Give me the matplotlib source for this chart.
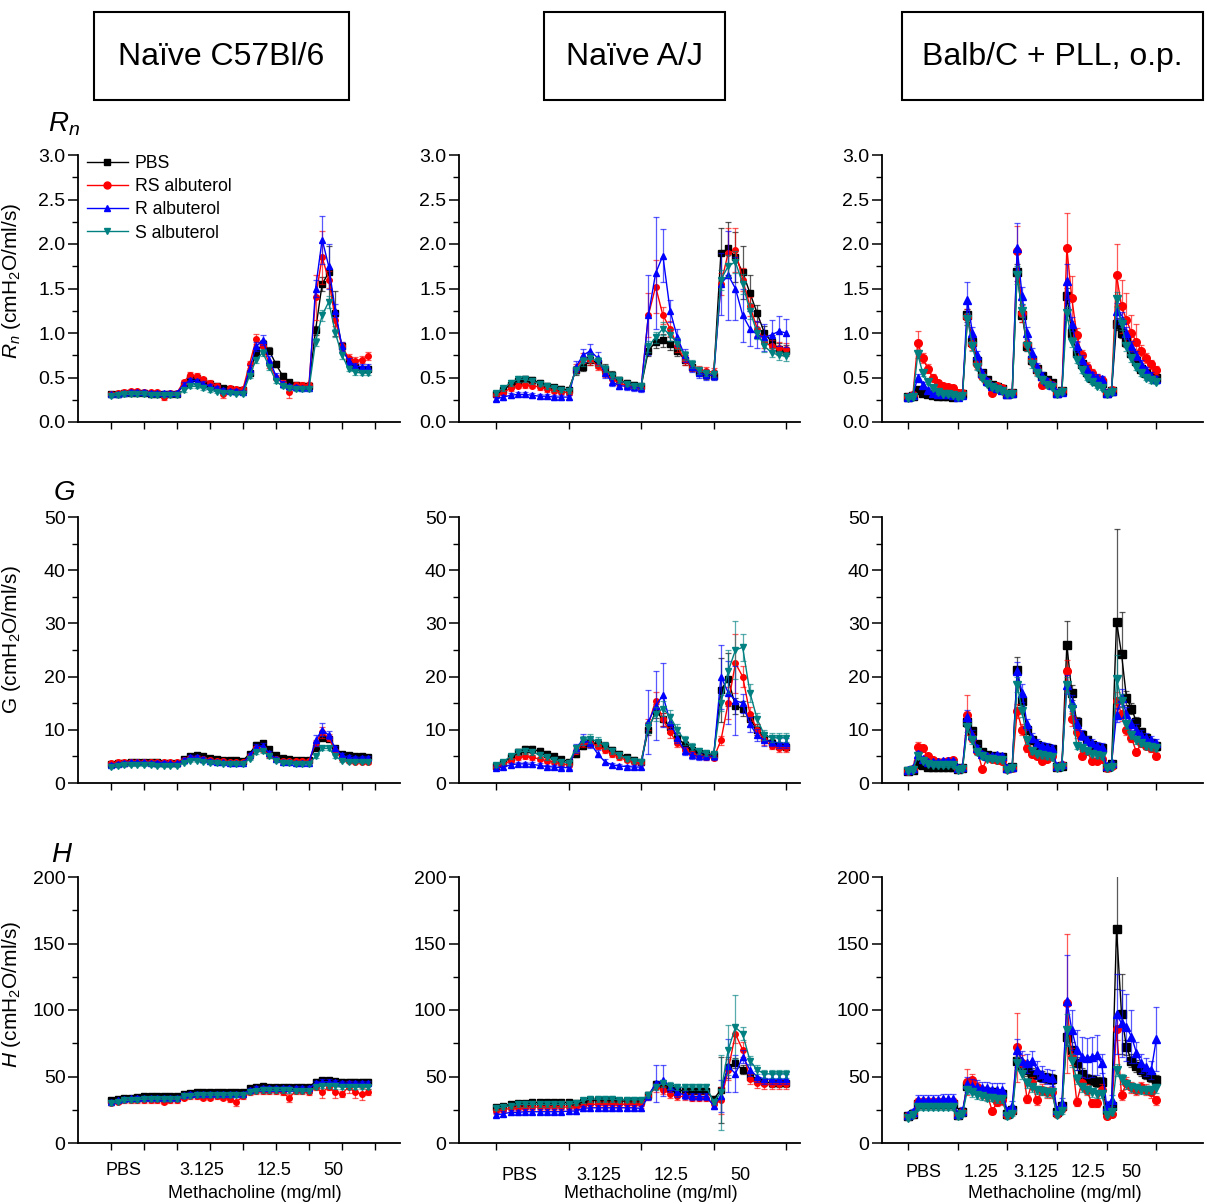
import matplotlib.pyplot as plt
import numpy as np
from matplotlib.patches import Rectangle
from matplotlib.lines import Line2D
from matplotlib.ticker import MultipleLocator, FormatStrFormatter
from matplotlib.colors import to_rgba

plt.rcParams['font.family'] = ['Liberation Sans', 'DejaVu Sans']
plt.rcParams['mathtext.fontset'] = 'custom'
plt.rcParams['mathtext.rm'] = 'Liberation Sans'
plt.rcParams['mathtext.it'] = 'Liberation Sans:italic'

groups = ['PBS', 'RS albuterol', 'R albuterol', 'S albuterol']
colors = ['#000000', '#ff0000', '#0000ff', '#008080']
markers = ['s', 'o', '^', 'v']

strains = ['Naïve C57Bl/6', 'Naïve A/J', 'Balb/C + PLL, o.p.']
doses_4 = ['PBS', '3.125', '12.5', '50']
doses_5 = ['PBS', '1.25', '3.125', '12.5', '50']

# ---- Naive C57Bl/6 (one point every 0.2 tick) ----
rn_c57_pbs = [0.31, 0.32, 0.33, 0.33, 0.33, 0.33, 0.32, 0.32, 0.32, 0.32, 0.32,
              0.42, 0.49, 0.49, 0.46, 0.43, 0.40, 0.38, 0.37, 0.36, 0.36,
              0.55, 0.78, 0.88, 0.80, 0.65, 0.52, 0.45, 0.42, 0.41, 0.41,
              1.03, 1.55, 1.68, 1.22, 0.85, 0.68, 0.62, 0.60, 0.60]
rn_c57_rs = [0.32, 0.33, 0.34, 0.35, 0.35, 0.34, 0.34, 0.34, 0.28, 0.33, 0.33,
             0.45, 0.53, 0.52, 0.48, 0.44, 0.41, 0.31, 0.38, 0.37, 0.37,
             0.65, 0.93, 0.85, 0.65, 0.50, 0.44, 0.34, 0.42, 0.42, 0.42,
             1.40, 1.85, 1.60, 1.15, 0.85, 0.72, 0.69, 0.70, 0.74]
rn_c57_r = [0.31, 0.32, 0.33, 0.34, 0.34, 0.34, 0.33, 0.33, 0.33, 0.33, 0.33,
            0.42, 0.47, 0.46, 0.43, 0.40, 0.38, 0.36, 0.35, 0.35, 0.34,
            0.60, 0.85, 0.92, 0.70, 0.52, 0.43, 0.40, 0.39, 0.38, 0.38,
            1.50, 2.05, 1.75, 1.25, 0.85, 0.68, 0.63, 0.62, 0.62]
rn_c57_s = [0.29, 0.30, 0.31, 0.31, 0.31, 0.31, 0.30, 0.30, 0.30, 0.30, 0.30,
            0.36, 0.40, 0.40, 0.38, 0.36, 0.34, 0.33, 0.33, 0.32, 0.32,
            0.52, 0.70, 0.78, 0.62, 0.46, 0.40, 0.38, 0.37, 0.37, 0.37,
            0.90, 1.20, 1.35, 1.00, 0.75, 0.60, 0.56, 0.55, 0.55]
rn_c57_sem = [0.05, 0.06, 0.06, 0.05]
rn_c57_big = {(1, 8): 0.03, (1, 17): 0.04, (1, 27): 0.07, (1, 31): 0.25, (1, 32): 0.30,
              (2, 32): 0.27, (2, 33): 0.25, (0, 33): 0.30, (0, 34): 0.25}

g_c57_pbs = [3.5, 3.7, 3.8, 3.9, 3.9, 3.9, 3.9, 3.9, 3.8, 3.8, 3.8,
             4.5, 5.1, 5.3, 5.0, 4.7, 4.5, 4.4, 4.3, 4.3, 4.2,
             5.5, 7.2, 7.5, 6.3, 5.2, 4.7, 4.5, 4.4, 4.4, 4.4,
             6.5, 8.5, 8.3, 6.5, 5.5, 5.2, 5.0, 5.0, 4.9]
g_c57_rs = [3.7, 3.9, 4.0, 4.0, 4.0, 4.0, 4.0, 4.0, 3.9, 3.9, 3.9,
            4.3, 4.7, 4.7, 4.5, 4.3, 4.2, 4.1, 4.0, 4.0, 4.0,
            5.0, 6.5, 6.3, 5.2, 4.5, 4.2, 4.1, 4.1, 4.1, 4.1,
            7.5, 9.5, 8.5, 6.0, 4.6, 4.2, 4.0, 4.0, 3.9]
g_c57_r = [3.4, 3.6, 3.8, 3.9, 3.9, 3.9, 3.8, 3.8, 3.8, 3.7, 3.7,
           4.3, 4.9, 4.8, 4.5, 4.2, 4.0, 3.9, 3.8, 3.7, 3.7,
           5.2, 6.8, 7.0, 5.6, 4.5, 4.0, 3.9, 3.8, 3.8, 3.8,
           8.0, 10.0, 9.0, 6.5, 5.2, 4.8, 4.7, 4.7, 4.7]
g_c57_s = [3.0, 3.2, 3.3, 3.3, 3.3, 3.3, 3.3, 3.2, 3.2, 3.2, 3.2,
           3.8, 4.2, 4.2, 4.0, 3.8, 3.7, 3.6, 3.6, 3.5, 3.5,
           4.6, 5.8, 6.0, 5.0, 4.2, 3.8, 3.7, 3.6, 3.6, 3.6,
           5.0, 6.5, 6.5, 5.0, 4.2, 4.0, 3.9, 3.9, 3.9]
g_c57_sem = [0.06, 0.08, 0.08, 0.06]
g_c57_big = {(2, 31): 1.0, (2, 32): 1.2, (1, 32): 1.0}

h_c57_pbs = [32, 33, 34, 34, 34.5, 35, 35, 35, 35, 35, 35,
             37, 37.5, 38, 38, 38, 38, 38, 38, 38, 38,
             41, 42, 42.5, 42, 42, 42, 42, 42, 42, 42,
             46, 47, 47, 46.5, 46, 46, 46, 46, 46]
h_c57_rs = [30, 31, 32, 32, 32, 32, 32, 32, 31, 32, 32,
            34, 35, 35, 34, 34, 35, 34, 33, 31, 35,
            38, 39, 39, 39, 39, 38, 34, 39, 39, 38,
            42, 38, 42, 38, 37, 42, 38, 37, 38]
h_c57_r = [31, 32, 33, 33.5, 34, 34, 34, 34, 34, 34, 34,
           36, 37, 37, 37, 37, 37, 37, 37, 37, 37,
           40, 41, 41, 41, 41, 41, 41, 41, 41, 41,
           45, 46, 46, 45.5, 45, 45, 45, 45, 45]
h_c57_s = [30, 31, 32, 32, 32.5, 33, 33, 33, 33, 33, 33,
           35, 35.5, 36, 36, 36, 36, 36, 36, 36, 36,
           38, 39, 39.5, 39.5, 39.5, 39.5, 39.5, 39, 39, 39,
           42, 43, 43, 42.5, 42, 42, 42, 42, 42]
h_c57_sem = [0.04, 0.06, 0.04, 0.04]
h_c57_big = {(1, 19): 3.5, (1, 27): 3.0, (1, 32): 4.5, (1, 34): 4.5,
             (1, 36): 4.5, (1, 37): 4.5, (1, 38): 4.5}

# ---- Naive A/J (one point every 0.1 tick) ----
rn_aj_pbs = [0.32, 0.36, 0.42, 0.46, 0.48, 0.47, 0.44, 0.41, 0.39, 0.37, 0.36,
             0.58, 0.62, 0.70, 0.66, 0.60, 0.53, 0.47, 0.44, 0.42, 0.40,
             0.80, 0.90, 0.92, 0.88, 0.80, 0.70, 0.62, 0.56, 0.53, 0.52,
             1.90, 1.95, 1.85, 1.68, 1.45, 1.22, 1.00, 0.90, 0.82, 0.80]
rn_aj_rs = [0.30, 0.33, 0.38, 0.41, 0.42, 0.41, 0.39, 0.37, 0.35, 0.34, 0.33,
            0.60, 0.72, 0.70, 0.63, 0.55, 0.48, 0.44, 0.41, 0.39, 0.38,
            1.20, 1.52, 1.20, 1.05, 0.85, 0.70, 0.62, 0.58, 0.57, 0.56,
            1.55, 1.90, 1.93, 1.60, 1.30, 1.05, 0.90, 0.85, 0.83, 0.82]
rn_aj_r = [0.26, 0.28, 0.30, 0.31, 0.31, 0.30, 0.29, 0.29, 0.28, 0.28, 0.28,
           0.62, 0.75, 0.80, 0.72, 0.55, 0.45, 0.41, 0.40, 0.39, 0.38,
           1.20, 1.67, 1.87, 1.25, 0.95, 0.75, 0.62, 0.55, 0.53, 0.52,
           1.55, 1.65, 1.50, 1.20, 1.05, 0.98, 0.95, 0.98, 1.02, 1.00]
rn_aj_s = [0.33, 0.38, 0.44, 0.48, 0.48, 0.46, 0.43, 0.40, 0.38, 0.36, 0.35,
           0.58, 0.68, 0.72, 0.68, 0.60, 0.52, 0.47, 0.43, 0.41, 0.40,
           0.85, 0.95, 1.05, 0.98, 0.88, 0.75, 0.65, 0.58, 0.55, 0.54,
           1.60, 1.75, 1.80, 1.55, 1.25, 1.00, 0.85, 0.78, 0.75, 0.74]
rn_aj_sem = [0.08, 0.08, 0.10, 0.07]
rn_aj_big = {(2, 21): 0.45, (2, 22): 0.63, (2, 23): 0.30, (1, 21): 0.25, (1, 22): 0.30,
             (2, 31): 0.35, (2, 32): 0.50, (2, 33): 0.35, (2, 34): 0.30, (2, 35): 0.20,
             (2, 36): 0.15, (2, 37): 0.15, (2, 38): 0.17, (2, 39): 0.17, (2, 40): 0.16,
             (0, 31): 0.28, (0, 32): 0.30, (0, 33): 0.28, (0, 34): 0.30, (0, 35): 0.20,
             (1, 32): 0.28, (1, 33): 0.25}

g_aj_pbs = [3.2, 3.8, 4.8, 5.8, 6.3, 6.3, 6.0, 5.5, 5.0, 4.5, 4.0,
            5.5, 7.0, 7.6, 7.4, 7.0, 6.2, 5.5, 4.8, 4.4, 4.0,
            10.0, 13.5, 12.0, 10.5, 8.5, 7.2, 6.2, 5.7, 5.4, 5.2,
            17.5, 19.5, 14.5, 14.0, 12.0, 10.0, 8.5, 7.5, 7.0, 6.8]
g_aj_rs = [3.0, 3.5, 4.2, 4.8, 5.0, 4.8, 4.5, 4.2, 3.9, 3.6, 3.4,
           6.0, 7.5, 7.5, 7.0, 6.2, 5.5, 4.8, 4.3, 4.0, 3.8,
           11.0, 15.5, 12.0, 9.5, 7.5, 6.2, 5.5, 5.0, 4.8, 4.7,
           8.0, 15.0, 22.5, 20.0, 13.0, 10.0, 8.0, 7.0, 6.5, 6.5]
g_aj_r = [2.8, 3.0, 3.4, 3.6, 3.6, 3.5, 3.3, 3.1, 3.0, 2.9, 2.9,
          6.5, 8.2, 7.5, 5.5, 4.0, 3.4, 3.2, 3.1, 3.0, 3.0,
          11.5, 14.5, 16.5, 11.5, 8.5, 6.0, 5.2, 5.0, 5.0, 5.0,
          20.0, 17.0, 15.5, 15.0, 11.0, 9.0, 8.0, 7.8, 7.5, 7.5]
g_aj_s = [3.3, 4.0, 5.0, 5.8, 6.0, 5.8, 5.3, 4.8, 4.4, 4.0, 3.7,
          6.5, 8.0, 8.3, 7.8, 7.0, 6.0, 5.2, 4.6, 4.2, 4.0,
          10.5, 13.0, 14.0, 12.5, 10.0, 8.0, 6.8, 6.0, 5.6, 5.4,
          15.0, 21.0, 25.0, 25.5, 17.0, 12.0, 9.0, 8.5, 8.5, 8.5]
g_aj_sem = [0.10, 0.10, 0.12, 0.10]
g_aj_big = {(2, 21): 6.0, (2, 22): 6.5, (2, 23): 6.0, (2, 31): 6.0, (2, 32): 6.0,
            (2, 33): 6.5, (3, 32): 4.0, (3, 33): 5.5, (1, 32): 3.0, (1, 33): 5.5,
            (0, 31): 6.0, (0, 32): 5.0}

h_aj_pbs = [27, 28, 29, 30, 30, 30.5, 30.5, 30.5, 30.5, 30.5, 30.5,
            30, 31, 32, 32, 32, 32, 31.5, 31.5, 31.5, 31.5,
            36, 44, 43, 41, 40, 39, 39, 39, 39, 33,
            40, 57, 60, 55, 50, 47, 46, 45, 45, 45]
h_aj_rs = [24, 25, 26, 26.5, 26.5, 27, 27, 27, 27, 27, 27,
           27, 28, 29, 29, 29, 29, 29, 29, 29, 29,
           35, 42, 40, 37, 35, 35, 34, 34, 34, 29,
           32, 55, 82, 70, 48, 45, 44, 44, 44, 44]
h_aj_r = [21, 22, 23, 23, 23.5, 23.5, 23.5, 23.5, 23.5, 23.5, 24,
          24, 26, 26.5, 26.5, 26.5, 26.5, 26.5, 26.5, 26.5, 26,
          35, 45, 47, 42, 38, 36, 35, 35, 35, 28,
          35, 58, 52, 65, 55, 50, 48, 48, 48, 48]
h_aj_s = [26, 27, 28, 29, 29, 29, 29, 29, 29, 29, 29,
          30, 32, 33, 33, 33, 33, 32.5, 32.5, 32.5, 32.5,
          36, 42, 45, 43, 42, 42, 42, 42, 42, 31,
          38, 70, 87, 82, 62, 55, 52, 52, 52, 52]
h_aj_sem = [0.06, 0.08, 0.08, 0.06]
h_aj_big = {(3, 31): 28, (3, 32): 19, (3, 33): 24, (2, 31): 12, (2, 32): 20,
            (2, 33): 14, (2, 22): 14, (2, 23): 12, (1, 31): 10, (1, 32): 8,
            (0, 31): 25, (0, 32): 8}

# ---- Balb/C + PLL (one point every 0.1 tick, five doses) ----
rn_pll_pbs = [0.28, 0.29, 0.36, 0.33, 0.31, 0.30, 0.29, 0.29, 0.29, 0.28,
              0.30, 0.31, 1.20, 0.90, 0.68, 0.55, 0.47, 0.42, 0.39, 0.37,
              0.32, 0.33, 1.68, 1.20, 0.85, 0.70, 0.60, 0.52, 0.47, 0.44,
              0.33, 0.35, 1.42, 1.00, 0.78, 0.65, 0.56, 0.50, 0.46, 0.44,
              0.33, 0.35, 1.10, 1.00, 0.90, 0.78, 0.68, 0.60, 0.55, 0.52, 0.50]
rn_pll_rs = [0.28, 0.30, 0.89, 0.72, 0.60, 0.50, 0.44, 0.41, 0.39, 0.38,
             0.33, 0.33, 1.18, 0.88, 0.65, 0.52, 0.45, 0.33, 0.40, 0.38,
             0.32, 0.33, 1.92, 1.22, 0.88, 0.70, 0.58, 0.42, 0.45, 0.42,
             0.33, 0.35, 1.95, 1.39, 0.98, 0.75, 0.62, 0.55, 0.50, 0.47,
             0.33, 0.36, 1.65, 1.30, 1.15, 1.00, 0.90, 0.80, 0.72, 0.65, 0.58]
rn_pll_r = [0.28, 0.30, 0.50, 0.42, 0.36, 0.33, 0.32, 0.31, 0.31, 0.30,
            0.28, 0.30, 1.37, 1.00, 0.75, 0.55, 0.46, 0.41, 0.38, 0.36,
            0.32, 0.33, 1.96, 1.42, 1.00, 0.78, 0.62, 0.52, 0.46, 0.42,
            0.33, 0.34, 1.58, 1.10, 0.85, 0.70, 0.60, 0.53, 0.50, 0.48,
            0.33, 0.35, 1.25, 1.15, 1.00, 0.85, 0.75, 0.65, 0.58, 0.52, 0.48]
rn_pll_s = [0.27, 0.28, 0.76, 0.55, 0.45, 0.38, 0.34, 0.32, 0.31, 0.30,
            0.28, 0.29, 1.16, 0.85, 0.62, 0.50, 0.43, 0.39, 0.37, 0.35,
            0.31, 0.32, 1.65, 1.25, 0.85, 0.65, 0.55, 0.47, 0.42, 0.39,
            0.32, 0.34, 1.22, 0.90, 0.70, 0.58, 0.50, 0.45, 0.41, 0.38,
            0.32, 0.34, 1.38, 1.10, 0.85, 0.72, 0.62, 0.55, 0.50, 0.47, 0.45]
rn_pll_sem = [0.06, 0.08, 0.07, 0.06]
rn_pll_big = {(1, 2): 0.13, (2, 12): 0.20, (2, 22): 0.28, (1, 22): 0.28, (1, 32): 0.40,
              (1, 33): 0.25, (2, 32): 0.20, (1, 42): 0.35, (1, 43): 0.30, (1, 44): 0.30,
              (1, 45): 0.20, (1, 46): 0.20}

g_pll_pbs = [2.3, 2.5, 3.5, 3.3, 3.1, 3.0, 3.0, 3.0, 3.0, 3.0,
             2.6, 2.8, 11.5, 9.8, 7.3, 5.8, 5.2, 5.0, 4.9, 4.8,
             2.8, 3.0, 21.3, 15.5, 10.0, 8.0, 7.2, 6.8, 6.5, 6.3,
             3.0, 3.2, 26.0, 17.0, 11.5, 9.0, 8.0, 7.2, 6.8, 6.5,
             3.0, 3.5, 30.3, 24.3, 16.0, 14.0, 11.5, 9.5, 8.5, 7.5, 7.0]
g_pll_rs = [2.3, 2.6, 6.7, 6.5, 5.0, 4.3, 4.0, 4.0, 4.2, 4.3,
            2.7, 2.8, 12.8, 8.5, 6.0, 2.6, 4.8, 4.5, 4.3, 4.2,
            2.6, 2.9, 13.5, 10.0, 6.5, 5.5, 5.0, 4.2, 4.5, 5.0,
            3.0, 3.3, 21.0, 12.0, 9.5, 5.0, 6.0, 4.2, 4.2, 4.5,
            2.8, 3.2, 15.5, 13.0, 10.0, 8.5, 5.8, 7.5, 7.0, 6.5, 5.1]
g_pll_r = [2.5, 2.8, 5.5, 4.5, 4.0, 3.9, 4.0, 4.1, 4.1, 4.1,
           2.8, 3.0, 12.5, 9.0, 6.5, 5.5, 5.0, 5.0, 5.2, 5.0,
           2.9, 3.1, 21.0, 17.0, 11.0, 8.5, 7.5, 7.0, 6.8, 6.5,
           3.2, 3.5, 18.5, 15.0, 11.0, 9.0, 8.0, 7.5, 7.0, 6.8,
           3.2, 3.8, 12.8, 16.0, 13.0, 11.0, 10.0, 9.0, 8.5, 8.0, 7.5]
g_pll_s = [2.2, 2.5, 5.0, 4.2, 3.6, 3.4, 3.3, 3.3, 3.3, 3.3,
           2.4, 2.6, 10.5, 8.0, 5.8, 5.0, 4.6, 4.5, 4.4, 4.3,
           2.5, 2.8, 18.5, 13.5, 8.0, 6.0, 5.5, 5.2, 5.0, 4.8,
           2.9, 3.1, 18.5, 14.0, 7.0, 6.5, 6.0, 5.5, 5.2, 5.0,
           2.8, 3.0, 19.5, 15.5, 11.0, 9.0, 8.0, 7.5, 7.0, 6.8, 6.5]
g_pll_sem = [0.08, 0.10, 0.10, 0.08]
g_pll_big = {(0, 42): 17.4, (0, 43): 7.9, (0, 32): 4.4, (0, 22): 2.4, (1, 12): 3.8,
             (1, 2): 1.0, (3, 42): 4.5, (2, 22): 1.8}

h_pll_pbs = [20, 22, 29, 29, 29, 29, 29, 29, 29, 29,
             21, 23, 43, 42, 40, 39, 38, 38, 37, 37,
             22, 25, 62, 58, 55, 52, 51, 50, 49, 48,
             23, 28, 80, 70, 60, 52, 48, 47, 46, 46,
             25, 28, 161, 97, 72, 62, 58, 55, 52, 50, 47]
h_pll_rs = [20, 22, 31, 31, 31, 31, 31, 31, 31, 31,
            21, 23, 46, 47, 42, 38, 36, 24, 31, 32,
            21, 24, 72, 60, 33, 45, 32, 40, 38, 38,
            22, 26, 105, 65, 31, 45, 40, 30, 30, 40,
            20, 22, 86, 36, 45, 42, 40, 42, 40, 38, 32]
h_pll_r = [21, 23, 32, 32, 32, 32, 32, 33, 33, 33,
           22, 24, 44, 43, 42, 41, 41, 40, 40, 40,
           24, 28, 70, 62, 60, 62, 55, 52, 50, 49,
           25, 30, 107, 85, 70, 65, 64, 65, 66, 60,
           28, 32, 97, 90, 87, 80, 68, 60, 57, 55, 78]
h_pll_s = [19, 21, 27, 27, 27, 27, 27, 27, 27, 27,
           20, 22, 40, 38, 36, 35, 34, 34, 33, 33,
           20, 22, 60, 52, 45, 42, 40, 39, 38, 38,
           21, 24, 85, 62, 48, 42, 40, 38, 37, 37,
           21, 23, 55, 48, 44, 42, 41, 40, 40, 40, 41]
h_pll_sem = [0.08, 0.10, 0.12, 0.08]
h_pll_big = {(0, 42): 45, (0, 43): 30, (2, 32): 34, (2, 42): 30, (2, 43): 25,
             (2, 44): 25, (2, 45): 20, (2, 50): 24, (2, 33): 15, (2, 34): 15,
             (2, 35): 15, (2, 36): 15, (2, 37): 15, (2, 38): 15, (1, 32): 52,
             (1, 22): 26, (1, 12): 10, (3, 32): 12}

panels = [
    [([rn_c57_pbs, rn_c57_rs, rn_c57_r, rn_c57_s], rn_c57_sem, rn_c57_big),
     ([rn_aj_pbs, rn_aj_rs, rn_aj_r, rn_aj_s], rn_aj_sem, rn_aj_big),
     ([rn_pll_pbs, rn_pll_rs, rn_pll_r, rn_pll_s], rn_pll_sem, rn_pll_big)],
    [([g_c57_pbs, g_c57_rs, g_c57_r, g_c57_s], g_c57_sem, g_c57_big),
     ([g_aj_pbs, g_aj_rs, g_aj_r, g_aj_s], g_aj_sem, g_aj_big),
     ([g_pll_pbs, g_pll_rs, g_pll_r, g_pll_s], g_pll_sem, g_pll_big)],
    [([h_c57_pbs, h_c57_rs, h_c57_r, h_c57_s], h_c57_sem, h_c57_big),
     ([h_aj_pbs, h_aj_rs, h_aj_r, h_aj_s], h_aj_sem, h_aj_big),
     ([h_pll_pbs, h_pll_rs, h_pll_r, h_pll_s], h_pll_sem, h_pll_big)],
]

# layout, in pixels of a 1205 x 1204 canvas
W, H = 1205.0, 1204.0
col_px = [(78, 400), (459, 800), (882, 1203)]
row_px = [(155, 422), (517, 783), (877, 1143)]
x_step = [0.2, 0.1, 0.1]
x_lims = [(-1.0, 8.76), (-0.51, 4.19), (-0.52, 5.94)]
x_ticks = [np.arange(0, 9), np.arange(0, 5), np.arange(0, 6)]
x_label_pos = [[0.39, 2.76, 4.94, 6.73], [0.33, 1.41, 2.41, 3.37], [0.32, 1.48, 2.58, 3.62, 4.5]]
x_label_txt = [doses_4, doses_4, doses_5]
x_label_pad = [14, 17, 15]
xlabel_x = [0.55, 0.563, 0.539]
marker_size = [4, 4, 5.5]

y_max = [3.0, 50, 200]
y_major = [0.5, 10, 50]
y_fmt = ['%.1f', '%d', '%d']
y_labels = [r'$R_n$ (cmH$_2$O/ml/s)', r'G (cmH$_2$O/ml/s)', r'$H$ (cmH$_2$O/ml/s)']
y_label_y = [0.53, 0.54, 0.56]
row_titles = [r'$R_n$', r'$G$', r'$H$']
row_title_px = [(48, 131), (53, 500), (51, 862)]

fig = plt.figure(figsize=(W / 100, H / 100), dpi=100)

axes = []
for r in range(3):
    for c in range(3):
        (x0, x1), (y0, y1) = col_px[c], row_px[r]
        ax = fig.add_axes([x0 / W, 1 - y1 / H, (x1 - x0) / W, (y1 - y0) / H])
        series, sem, big = panels[r][c]
        for k, vals in enumerate(series):
            y = np.array(vals, dtype=float)
            x = np.arange(len(y)) * x_step[c]
            err = y * sem[k]
            for (s, i), e in big.items():
                if s == k:
                    err[i] = e
            ax.errorbar(x, y, yerr=err, color=colors[k], marker=markers[k],
                        ms=marker_size[c], mec=colors[k], lw=1.0,
                        ecolor=to_rgba(colors[k], 0.65), elinewidth=0.9,
                        capsize=2.2, capthick=0.9, zorder=2 + k)

        ax.set_xlim(*x_lims[c])
        ax.set_ylim(0, y_max[r])
        for side in ['top', 'right']:
            ax.spines[side].set_visible(False)
        for side in ['left', 'bottom']:
            ax.spines[side].set_linewidth(1.3)

        ax.yaxis.set_major_locator(MultipleLocator(y_major[r]))
        ax.yaxis.set_minor_locator(MultipleLocator(y_major[r] / 2))
        ax.yaxis.set_major_formatter(FormatStrFormatter(y_fmt[r]))
        ax.tick_params(axis='y', which='major', direction='out', length=7, width=1.1,
                       labelsize=14, pad=2)
        ax.tick_params(axis='y', which='minor', direction='out', length=4, width=1.0)

        ax.set_xticks(x_ticks[c])
        ax.set_xticklabels([])
        ax.tick_params(axis='x', which='major', direction='out', length=5, width=1.0)
        if r == 2:
            ax.set_xticks(x_label_pos[c], minor=True)
            ax.set_xticklabels(x_label_txt[c], minor=True)
            ax.tick_params(axis='x', which='minor', length=0, labelsize=13, pad=x_label_pad[c])
            ax.set_xlabel('Methacholine (mg/ml)', fontsize=13, va='top')
            ax.xaxis.set_label_coords(xlabel_x[c], -0.158)
        else:
            ax.tick_params(axis='x', which='minor', bottom=False)

        if c == 0:
            ax.set_ylabel(y_labels[r], fontsize=15)
            ax.yaxis.set_label_coords(-0.171, y_label_y[r])
        axes.append(ax)

# legend in the top-left panel (line + marker, no error bars)
handles = [Line2D([], [], color=colors[k], marker=markers[k], ms=5, lw=1.0)
           for k in range(4)]
axes[0].legend(handles, groups, loc='upper left', bbox_to_anchor=(87 / W, 1 - 155 / H),
               bbox_transform=fig.transFigure, frameon=False, fontsize=12.7,
               handlelength=2.3, handletextpad=0.4, labelspacing=0.35,
               borderpad=0, borderaxespad=0, numpoints=1)

# row titles
for r in range(3):
    px, py = row_title_px[r]
    fig.text(px / W, 1 - py / H, row_titles[r], fontsize=20, va='baseline', ha='left')

# strain boxes
box_px = [(94, 349), (544, 725), (902, 1203)]
for (bx0, bx1), name in zip(box_px, strains):
    fig.add_artist(Rectangle((bx0 / W, 1 - 100 / H), (bx1 - bx0) / W, 88 / H,
                             transform=fig.transFigure, fill=False, lw=1.5, ec='black'))
    fig.text((bx0 + bx1) / 2 / W, 1 - 57 / H, name, fontsize=23, ha='center', va='center')

fig.savefig('out.png', dpi=100)
